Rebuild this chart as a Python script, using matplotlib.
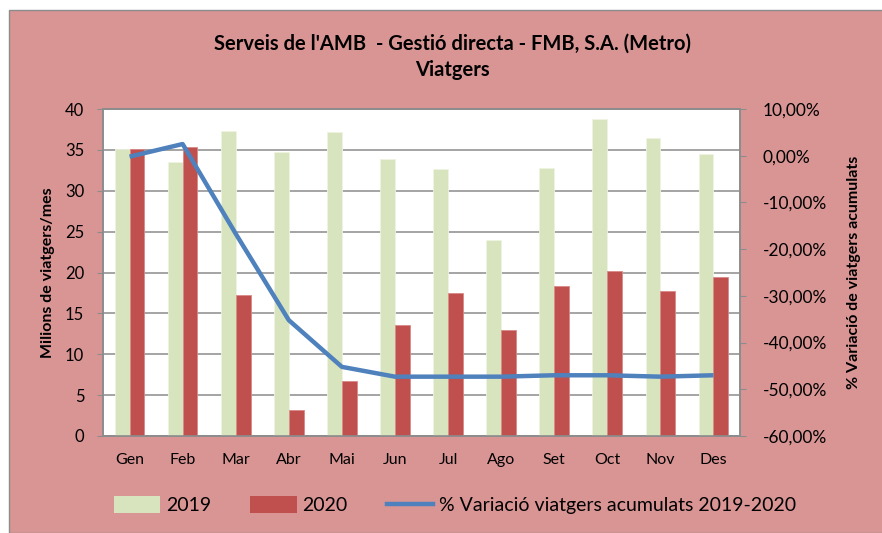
import matplotlib
matplotlib.use("Agg")
import matplotlib.pyplot as plt
from matplotlib.patches import Rectangle
from matplotlib.lines import Line2D
from matplotlib.patches import Patch
from matplotlib.ticker import FuncFormatter
import numpy as np

plt.rcParams['font.family'] = ['Lato', 'DejaVu Sans']

months = ["Gen", "Feb", "Mar", "Abr", "Mai", "Jun", "Jul", "Ago", "Set", "Oct", "Nov", "Des"]
v2019 = [35.1, 33.5, 37.3, 34.7, 37.2, 33.9, 32.6, 24.0, 32.8, 38.8, 36.5, 34.5]
v2020 = [35.1, 35.3, 17.3, 3.2, 6.7, 13.6, 17.5, 13.0, 18.3, 20.2, 17.7, 19.4]
var_acum = [-0.2, 2.5, -16.7, -35.2, -45.2, -47.3, -47.3, -47.3, -47.0, -47.0, -47.3, -47.0]

title = "Serveis de l'AMB  - Gestió directa - FMB, S.A. (Metro)\nViatgers"
ylabel_left = "Milions de viatgers/mes"
ylabel_right = "% Variació de viatgers acumulats"
leg_labels = ["2019", "2020", "% Variació viatgers acumulats 2019-2020"]

c2019 = "#D7E4BD"
c2020 = "#C0504D"
cline = "#4F81BD"
pink = "#D99594"
grid_c = "#8C8C8C"

W, H = 882, 533
fig = plt.figure(figsize=(W / 100, H / 100), dpi=100)
fig.patch.set_facecolor("white")
bg = Rectangle((9 / W, 0), 1, (H - 10) / H, transform=fig.transFigure,
               facecolor=pink, edgecolor="#8C8C8C", linewidth=1.0, zorder=-10)
fig.patches.append(bg)

ax = fig.add_axes([103 / W, (H - 436) / H, (740 - 103) / W, (436 - 109) / H])
ax.set_facecolor("white")
x = np.arange(len(months))
bw = 0.28
ax.bar(x - bw / 2, v2019, bw, color=c2019, edgecolor="#EEF3E2", linewidth=0.6, zorder=3)
ax.bar(x + bw / 2, v2020, bw, color=c2020, edgecolor="#D88A88", linewidth=0.6, zorder=3)
ax.set_xlim(-0.5, len(months) - 0.5)
ax.set_ylim(0, 40)
ax.set_yticks(np.arange(0, 41, 5))
ax.set_xticks(x)
ax.set_xticklabels(months)
ax.yaxis.grid(True, color=grid_c, linewidth=1.1, zorder=0)
ax.set_axisbelow(True)
for s in ax.spines.values():
    s.set_color(grid_c)
    s.set_linewidth(1.2)
ax.tick_params(axis='y', colors=grid_c, labelcolor="black", labelsize=12, length=4.5, direction='out', pad=9)
ax.tick_params(axis='x', length=0, labelsize=11.5, pad=12)
ax.set_ylabel(ylabel_left, fontsize=11.5, fontweight='bold', labelpad=7)

ax2 = ax.twinx()
ax2.plot(x, var_acum, color=cline, linewidth=3.2, solid_capstyle='butt', zorder=5)
ax2.set_ylim(-60, 10)
ax2.set_yticks(np.arange(-60, 11, 10))
ax2.yaxis.set_major_formatter(FuncFormatter(lambda v, p: f"{v:.2f}%".replace(".", ",")))
for s in ax2.spines.values():
    s.set_color(grid_c)
    s.set_linewidth(1.2)
ax2.tick_params(axis='y', colors=grid_c, labelcolor="black", labelsize=12.5, length=4.5, direction='out', pad=12)
ax2.set_ylabel(ylabel_right, fontsize=11.5, fontweight='bold', labelpad=14)

fig.text(452 / W, 1 - 57 / H, title, ha='center', va='center', fontsize=14.5,
         fontweight='bold', linespacing=1.4)

handles = [Patch(facecolor=c2019, edgecolor='none'),
           Patch(facecolor=c2020, edgecolor='none'),
           Line2D([0], [0], color=cline, linewidth=3.2)]
fig.legend(handles, leg_labels, loc='center', bbox_to_anchor=(455 / W, 1 - 505 / H), ncol=3,
           frameon=False, fontsize=14, handlelength=2.4, handleheight=1.0,
           columnspacing=2.0, handletextpad=0.3)

fig.savefig("out.png", dpi=100, facecolor=fig.get_facecolor())
